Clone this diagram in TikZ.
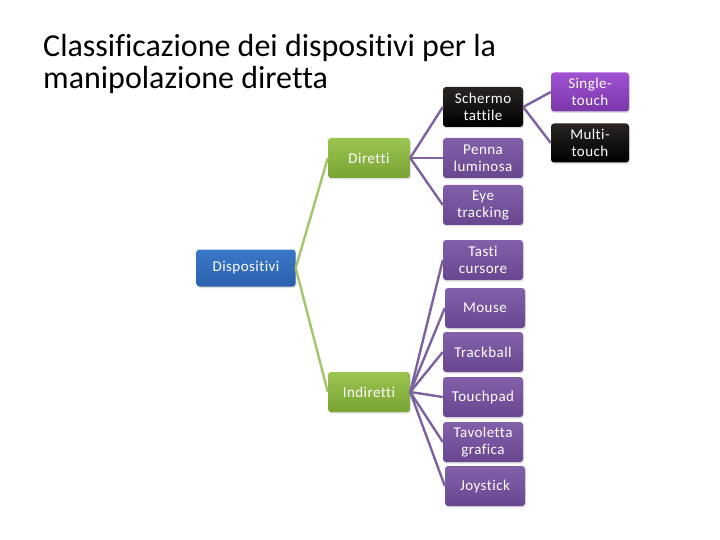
\documentclass[tikz,border=0pt]{standalone}
\usepackage{fontspec}
\setmainfont{Carlito}[Ligatures=CommonOff]
\newfontfamily\boxfont{Carlito}[Ligatures=CommonOff, LetterSpace=3]
\usepackage{xcolor}
\definecolor{rootblue}{RGB}{58, 120, 200}
\definecolor{rootbluedark}{RGB}{42, 96, 172}
\definecolor{catgreen}{RGB}{156, 196, 80}
\definecolor{catgreendark}{RGB}{120, 164, 52}
\definecolor{leafpurple}{RGB}{130, 96, 170}
\definecolor{leafpurpledark}{RGB}{104, 70, 144}
\definecolor{touchpurple}{RGB}{160, 82, 210}
\definecolor{touchpurpledark}{RGB}{122, 54, 170}
\definecolor{blackbox}{RGB}{40, 36, 34}
\definecolor{greenline}{RGB}{166, 196, 108}
\definecolor{purpleline}{RGB}{124, 98, 160}
\usepackage{tikz}
\usetikzlibrary{positioning, shadows}

\begin{document}
\begin{tikzpicture}[
    x=1pt, y=-1pt,
    box/.style={
        rectangle, rounded corners=3pt, text=white, align=center,
        minimum width=80pt, minimum height=40pt, inner sep=2pt,
        font=\boxfont\fontsize{15}{17}\selectfont,
        drop shadow={opacity=0.25, shadow xshift=1pt, shadow yshift=-1.5pt}
    },
    rootbox/.style={box, top color=rootblue, bottom color=rootbluedark, minimum width=99pt, minimum height=37pt},
    catbox/.style={box, top color=catgreen, bottom color=catgreendark, minimum width=82pt},
    leafbox/.style={box, top color=leafpurple, bottom color=leafpurpledark},
    darkbox/.style={box, top color=blackbox, bottom color=black},
    touchbox/.style={box, top color=touchpurple, bottom color=touchpurpledark, minimum width=78pt, minimum height=39pt},
    catlink/.style={draw=greenline, line width=2.4pt},
    leaflink/.style={draw=purpleline, line width=2.4pt}
]
\useasboundingbox (0,0) rectangle (720,540);

% Title
\node[anchor=north west, align=left, inner sep=0pt,
      font=\fontsize{32}{32}\selectfont] (title) at (43,34)
    {Classificazione dei dispositivi per la\\manipolazione diretta};

% Root and categories
\node[rootbox] (disp) at (246,268) {Dispositivi};
\node[catbox] (diretti) at (369,158) {Diretti};
\node[catbox] (indiretti) at (369,392) {Indiretti};

% Direct devices
\node[darkbox] (schermo) at (483,107) {Schermo\\tattile};
\node[leafbox] (penna) at (483,158) {Penna\\luminosa};
\node[leafbox] (eye) at (483,205) {Eye\\tracking};

% Indirect devices
\node[leafbox] (tasti) at (483,260) {Tasti\\cursore};
\node[leafbox] (mouse) at (485,308) {Mouse};
\node[leafbox] (trackball) at (483,352) {Trackball};
\node[leafbox] (touchpad) at (483,397) {Touchpad};
\node[leafbox] (tavoletta) at (483,442) {Tavoletta\\grafica};
\node[leafbox] (joystick) at (485,486) {Joystick};

% Touch screen types
\node[touchbox] (single) at (590,92) {Single-\\touch};
\node[darkbox, minimum width=78pt, minimum height=39pt] (multi) at (590,143) {Multi-\\touch};

% Links
\draw[catlink] (disp.east) -- (diretti.west);
\draw[catlink] (disp.east) -- (indiretti.west);
\foreach \leaf in {schermo, penna, eye}
    \draw[leaflink] (diretti.east) -- (\leaf.west);
\foreach \leaf in {tasti, mouse, trackball, touchpad, tavoletta, joystick}
    \draw[leaflink] (indiretti.east) -- (\leaf.west);
\draw[leaflink] (schermo.east) -- (single.west);
\draw[leaflink] (schermo.east) -- (multi.west);

\end{tikzpicture}
\end{document}
